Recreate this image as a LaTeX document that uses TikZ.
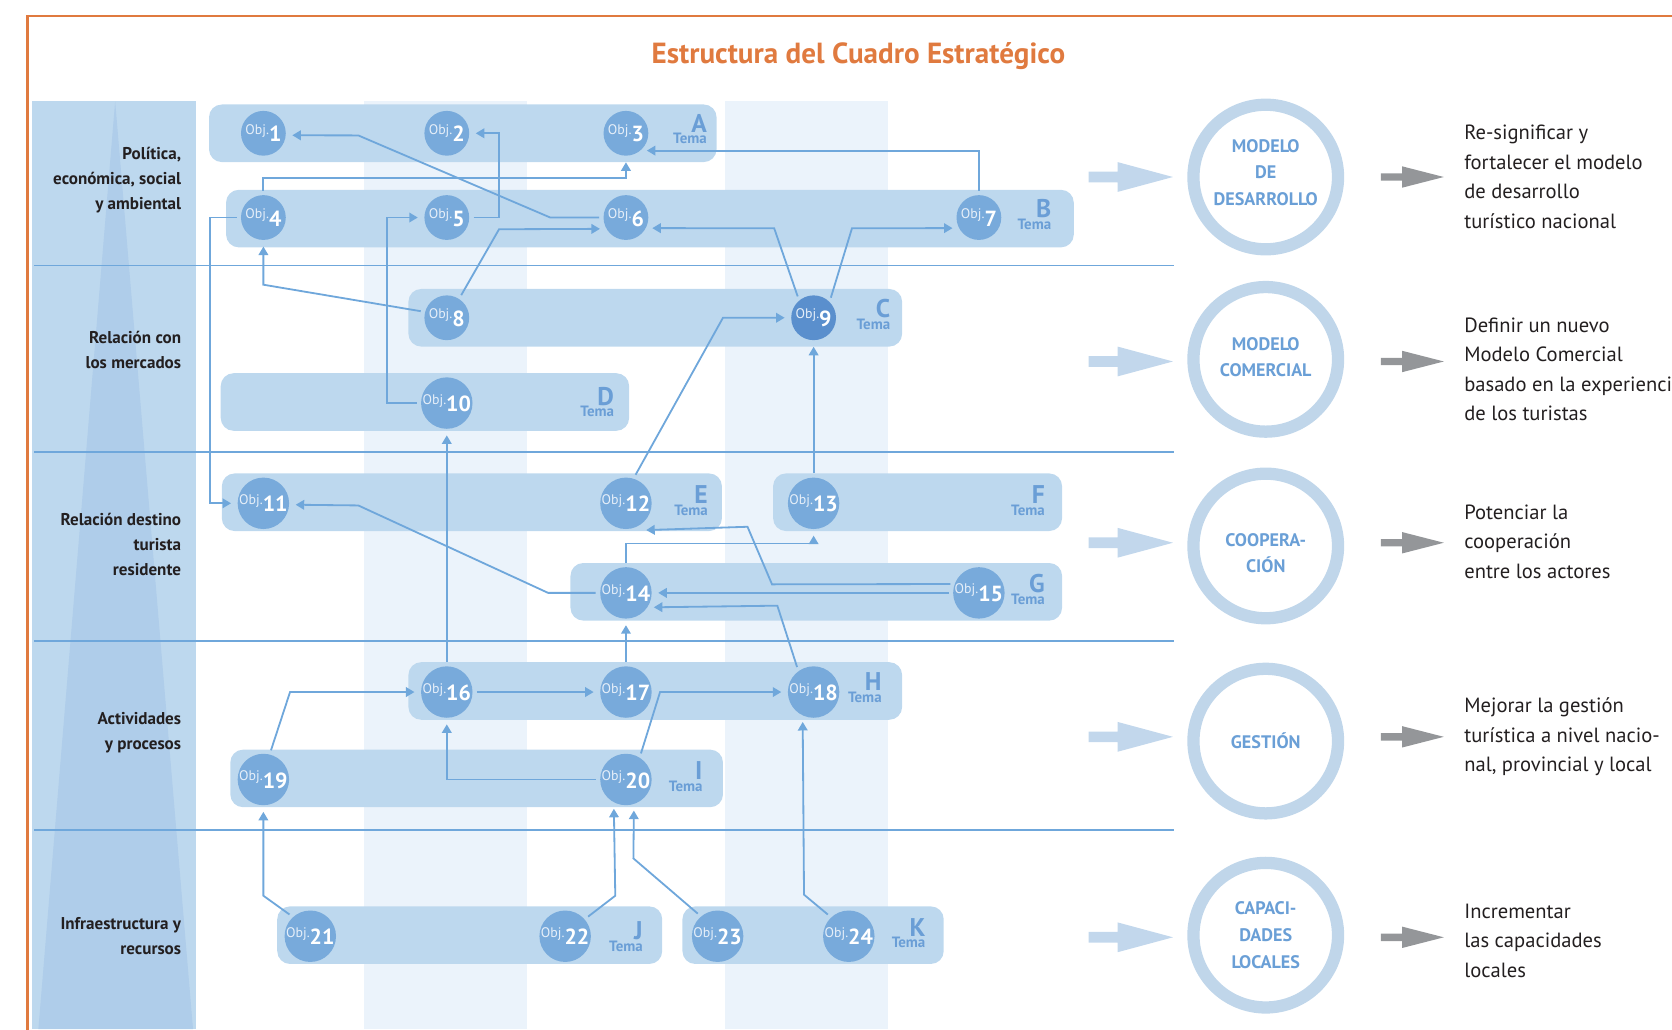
\documentclass[tikz,border=0pt]{standalone}
\usepackage{fontspec}
\setmainfont{PT Sans}
\usetikzlibrary{arrows.meta,calc}
\definecolor{ink}{HTML}{231F20}
\definecolor{framecol}{HTML}{E07A3F}
\definecolor{panelblue}{HTML}{BDD8EE}
\definecolor{wedgeblue}{HTML}{AFCDEA}
\definecolor{stripeblue}{HTML}{EBF3FB}
\definecolor{rowblue}{HTML}{6FA7DB}
\definecolor{boxfill}{HTML}{BDD8EE}
\definecolor{objfill}{HTML}{78AADB}
\definecolor{objdark}{HTML}{5A8FCD}
\definecolor{objtext}{HTML}{E6EFF9}
\definecolor{temablue}{HTML}{6A9ED6}
\definecolor{linkblue}{HTML}{6FA7DB}
\definecolor{ringblue}{HTML}{C0D6EA}
\definecolor{ringtextblue}{HTML}{6A9FD6}
\definecolor{pointerblue}{HTML}{C2D7EC}
\definecolor{resultgray}{HTML}{949699}

\newcommand{\objtag}[1]{{\fontsize{13}{13}\selectfont\color{objtext}Obj.}\raisebox{-7pt}{\fontsize{20.5}{20.5}\selectfont\bfseries #1}}
\newcommand{\tematag}[1]{Tema\llap{\raisebox{11pt}{\fontsize{24}{24}\selectfont #1}}}

\begin{document}
\begin{tikzpicture}[
    x=1pt,
    y=-1pt,
    font=\fontsize{16}{23.5}\selectfont,
    text=ink,
    linkarrow/.style={draw=linkblue, line width=1.7pt, -{Triangle[length=8pt,width=9pt]},
        shorten <=4pt, shorten >=6pt},
    rowline/.style={draw=rowblue, line width=1.8pt},
    temabox/.style={rectangle, rounded corners=12pt, fill=boxfill, inner sep=0pt,
        minimum height=54pt},
    obj/.style={circle, fill=objfill, minimum size=42pt, inner sep=0pt, text=white},
    temalabel/.style={anchor=base east, inner sep=0pt, text=temablue,
        font=\fontsize{14}{14}\selectfont\bfseries},
    rowlabel/.style={anchor=east, align=right, inner sep=0pt,
        font=\fontsize{16}{23.5}\selectfont\bfseries},
    ring/.style={circle, draw=ringblue, line width=11.5pt, minimum size=135.6pt, inner sep=0pt},
    ringtext/.style={align=center, inner sep=0pt, text=ringtextblue,
        font=\fontsize{17}{25}\selectfont\bfseries},
    goal/.style={anchor=west, align=left, inner sep=0pt,
        font=\fontsize{19.3}{27.7}\selectfont},
    pointer/.style={fill=pointerblue},
    result/.style={fill=resultgray}
]
\useasboundingbox (0,0) rectangle (1568,965);

% Background: light columns, the axis panel and its wedge.
\fill[stripeblue] (341,95) rectangle (494,965);
\fill[stripeblue] (680,95) rectangle (833,965);
\fill[panelblue] (30,95) rectangle (184,965);
\fill[wedgeblue] (108,95) -- (181,965) -- (36,965) -- cycle;

% Frame and title.
\draw[framecol, line width=2.5pt] (26,975) -- (26,15) -- (1580,15);
\node[font=\fontsize{27.3}{27.3}\selectfont\bfseries, text=framecol] (title) at (805,53)
    {Estructura del Cuadro Estratégico};

% Row separators.
\draw[rowline] (32,249) -- (1101,249);
\draw[rowline] (32,424) -- (1101,424);
\draw[rowline] (32,601) -- (1101,601);
\draw[rowline] (32,778) -- (1101,778);

% Row names.
\node[rowlabel] (rowpol) at (170,169) {Política,\\económica, social\\y ambiental};
\node[rowlabel] (rowmer) at (170,328.5) {Relación con\\los mercados};
\node[rowlabel] (rowdes) at (170,511) {Relación destino\\turista\\residente};
\node[rowlabel] (rowact) at (170,687.5) {Actividades\\y procesos};
\node[rowlabel] (rowinf) at (170,877.5) {Infraestructura y\\recursos};

% Theme boxes.
\node[temabox, minimum width=476pt] (temaA) at (434,125) {};
\node[temabox, minimum width=795pt] (temaB) at (609.5,205) {};
\node[temabox, minimum width=463pt] (temaC) at (614.5,298) {};
\node[temabox, minimum width=383pt] (temaD) at (398.5,377) {};
\node[temabox, minimum width=469pt] (temaE) at (442.5,471) {};
\node[temabox, minimum width=271pt] (temaF) at (860.5,471) {};
\node[temabox, minimum width=461pt] (temaG) at (765.5,555) {};
\node[temabox, minimum width=463pt] (temaH) at (614.5,648) {};
\node[temabox, minimum width=462pt] (temaI) at (447,730) {};
\node[temabox, minimum width=361pt] (temaJ) at (440.5,877) {};
\node[temabox, minimum width=245pt] (temaK) at (762.5,877) {};

\node[temalabel] (labA) at (663,135) {\tematag{A}};
\node[temalabel] (labB) at (986,215) {\tematag{B}};
\node[temalabel] (labC) at (835,309) {\tematag{C}};
\node[temalabel] (labD) at (576,391) {\tematag{D}};
\node[temalabel] (labE) at (664,483) {\tematag{E}};
\node[temalabel] (labF) at (980,483) {\tematag{F}};
\node[temalabel] (labG) at (980,567) {\tematag{G}};
\node[temalabel] (labH) at (827,659) {\tematag{H}};
\node[temalabel] (labI) at (659,742) {\tematag{I}};
\node[temalabel] (labJ) at (603,892) {\tematag{J}};
\node[temalabel] (labK) at (868,889) {\tematag{K}};

% Objectives.
\node[obj] (o1) at (247,125) {\objtag{1}};
\node[obj] (o2) at (419,125) {\objtag{2}};
\node[obj] (o3) at (587,125) {\objtag{3}};
\node[obj] (o4) at (247,204) {\objtag{4}};
\node[obj] (o5) at (419,204) {\objtag{5}};
\node[obj] (o6) at (587,204) {\objtag{6}};
\node[obj] (o7) at (918,204) {\objtag{7}};
\node[obj] (o8) at (419,298) {\objtag{8}};
\node[obj, fill=objdark] (o9) at (763,298) {\objtag{9}};
\node[obj] (o10) at (419,378) {\objtag{10}};
\node[obj] (o11) at (247,472) {\objtag{11}};
\node[obj] (o12) at (587,472) {\objtag{12}};
\node[obj] (o13) at (763,472) {\objtag{13}};
\node[obj] (o14) at (587,556) {\objtag{14}};
\node[obj] (o15) at (918,556) {\objtag{15}};
\node[obj] (o16) at (419,649) {\objtag{16}};
\node[obj] (o17) at (587,649) {\objtag{17}};
\node[obj] (o18) at (763,649) {\objtag{18}};
\node[obj] (o19) at (247,731) {\objtag{19}};
\node[obj] (o20) at (587,731) {\objtag{20}};
\node[obj] (o21) at (291,878) {\objtag{21}};
\node[obj] (o22) at (530,878) {\objtag{22}};
\node[obj] (o23) at (673,878) {\objtag{23}};
\node[obj] (o24) at (796,878) {\objtag{24}};

% Links between objectives.
\draw[linkarrow] (o6.west) -- (516,204) -- (336,127) -- (o1.-5);
\draw[linkarrow] (o5.east) -- ++(28,0) |- (o2.east);
\draw[linkarrow] (o4.north) -- ++(0,-16) -| (o3.south);
\draw[linkarrow] (o7.north) |- (o3.-50);
\draw[linkarrow] (o4.west) -- ++(-29,0) |- (o11.west);
\draw[linkarrow] (o10.west) -- ++(-32,0) |- (o5.west);
\draw[linkarrow] (o8.57) -- (468,215) -- (o6.-150);
\draw[linkarrow] (o8.165) -- (247,267) -- (o4.south);
\draw[linkarrow] (o9.130) -- (726,214) -- (o6.-28);
\draw[linkarrow] (o9.45) -- (799,214) -- (o7.-152);
\draw[linkarrow] (o12.73) -- (678,298) -- (o9.west);
\draw[linkarrow] (o13.north) -- (o9.south);
\draw[linkarrow] (o14.west) -- (514,556) -- (336,474) -- (o11.-3);
\draw[linkarrow] (o16.north) -- (o10.south);
\draw[linkarrow] (o14.north) -- ++(0,-22) -| (o13.south);
\draw[linkarrow] (o15.160) -- (724,548) -- (701,494) -- ($(o12.south)+(13,1)$);
\draw[linkarrow] (o15.west) -- (o14.east);
\draw[linkarrow] (o18.126) -- (729,568) -- (o14.-34);
\draw[linkarrow] (o17.north) -- (o14.south);
\draw[linkarrow] (o16.east) -- (o17.west);
\draw[linkarrow] (o19.76) -- (272,649) -- (o16.west);
\draw[linkarrow] (o20.west) -| (o16.south);
\draw[linkarrow] (o20.58) -- (619,649) -- (o18.west);
\draw[linkarrow] (o21.132) -- (247,840) -- (o19.south);
\draw[linkarrow] (o22.41) -- (577,840) -- (o20.-118);
\draw[linkarrow] (o23.130) -- (594,805) -- (o20.-72);
\draw[linkarrow] (o24.133) -- (754,839) -- (o18.-115);

% Strategic axes.
\fill[pointer] (1021,161) -- (1048,161) -- (1048,152) -- (1100,166) -- (1048,180) -- (1048,171) -- (1021,171) -- cycle;
\fill[pointer] (1021,334) -- (1048,334) -- (1048,325) -- (1100,339) -- (1048,353) -- (1048,344) -- (1021,344) -- cycle;
\fill[pointer] (1021,504) -- (1048,504) -- (1048,495) -- (1100,509) -- (1048,523) -- (1048,514) -- (1021,514) -- cycle;
\fill[pointer] (1021,686) -- (1048,686) -- (1048,677) -- (1100,691) -- (1048,705) -- (1048,696) -- (1021,696) -- cycle;
\fill[pointer] (1021,874) -- (1048,874) -- (1048,865) -- (1100,879) -- (1048,893) -- (1048,884) -- (1021,884) -- cycle;

\node[ring] (ring1) at (1187,166) {};
\node[ring] (ring2) at (1187,337) {};
\node[ring] (ring3) at (1187,512) {};
\node[ring] (ring4) at (1187,695) {};
\node[ring] (ring5) at (1187,877) {};

\node[ringtext] (axis1) at (1187,161.6) {MODELO\\DE\\DESARROLLO};
\node[ringtext] (axis2) at (1187,334.8) {MODELO\\COMERCIAL};
\node[ringtext] (axis3) at (1187,518.8) {COOPERA-\\CIÓN};
\node[ringtext] (axis4) at (1187,695) {GESTIÓN};
\node[ringtext] (axis5) at (1187,877) {CAPACI-\\DADES\\LOCALES};

\fill[result] (1295,162.5) -- (1315,162.5) -- (1315,156) -- (1354,166) -- (1315,176) -- (1315,169.5) -- (1295,169.5) -- cycle;
\fill[result] (1295,335.5) -- (1315,335.5) -- (1315,329) -- (1354,339) -- (1315,349) -- (1315,342.5) -- (1295,342.5) -- cycle;
\fill[result] (1295,505.5) -- (1315,505.5) -- (1315,499) -- (1354,509) -- (1315,519) -- (1315,512.5) -- (1295,512.5) -- cycle;
\fill[result] (1295,687.5) -- (1315,687.5) -- (1315,681) -- (1354,691) -- (1315,701) -- (1315,694.5) -- (1295,694.5) -- cycle;
\fill[result] (1295,875.5) -- (1315,875.5) -- (1315,869) -- (1354,879) -- (1315,889) -- (1315,882.5) -- (1295,882.5) -- cycle;

\node[goal] (goal1) at (1373,166) {Re-significar y\\fortalecer el modelo\\de desarrollo\\turístico nacional};
\node[goal] (goal2) at (1373,346.5) {Definir un nuevo\\Modelo Comercial\\basado en la experiencia\\de los turistas};
\node[goal] (goal3) at (1373,508) {Potenciar la\\cooperación\\entre los actores};
\node[goal] (goal4) at (1373,691) {Mejorar la gestión\\turística a nivel nacio-\\nal, provincial y local};
\node[goal] (goal5) at (1373,882) {Incrementar\\las capacidades\\locales};

\end{tikzpicture}
\end{document}
